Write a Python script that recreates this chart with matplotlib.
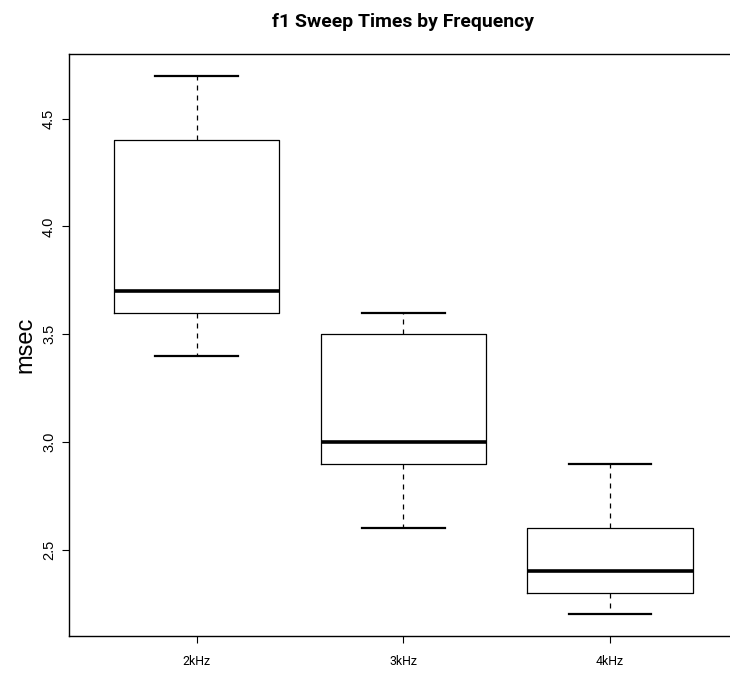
import matplotlib
matplotlib.use("Agg")
import matplotlib.pyplot as plt

groups = ["2kHz", "3kHz", "4kHz"]
whislo = [3.4, 2.6, 2.2]
q1 = [3.6, 2.9, 2.3]
med = [3.7, 3.0, 2.4]
q3 = [4.4, 3.5, 2.6]
whishi = [4.7, 3.6, 2.9]
yticks = [2.5, 3.0, 3.5, 4.0, 4.5]
title = "f1 Sweep Times by Frequency"

plt.rcParams["font.family"] = ["Liberation Sans", "DejaVu Sans"]
narrow = ["Roboto", "Liberation Sans", "DejaVu Sans"]

stats = []
for i, g in enumerate(groups):
    stats.append(dict(label=g, whislo=whislo[i], q1=q1[i], med=med[i],
                      q3=q3[i], whishi=whishi[i], fliers=[]))

W, H = 730, 677
fig = plt.figure(figsize=(W / 100, H / 100), dpi=100)
# right edge runs past the figure, like the cropped original
ax = fig.add_axes([68.5 / W, (H - 636) / H, 669.5 / W, 582 / H])

ax.bxp(stats, positions=[1, 2, 3], widths=0.8, showfliers=False,
       boxprops=dict(color="black", linewidth=0.9),
       medianprops=dict(color="black", linewidth=2.6),
       whiskerprops=dict(color="black", linewidth=0.9, linestyle=(0, (4, 4))),
       capprops=dict(color="black", linewidth=1.6),
       capwidths=0.4)

ax.set_xlim(0.38, 3.62)
ax.set_ylim(2.1, 4.8)
ax.set_yticks(yticks)
ax.set_yticklabels([f"{v:.1f}" for v in yticks], rotation=90, va="center",
                   fontsize=10.5)
ax.set_xticks([1, 2, 3])
ax.set_xticklabels(groups, family=narrow)
ax.tick_params(direction="out", length=5, width=0.8)
ax.tick_params(axis="x", pad=8.5)
ax.tick_params(axis="y", pad=4)
for s in ax.spines.values():
    s.set_linewidth(1.0)
ax.spines["right"].set_visible(False)

ax.set_ylabel("msec", fontsize=17, labelpad=4)
t = fig.text(403 / W, 1 - 27 / H, title, ha="center", va="baseline",
             fontsize=14, fontweight="bold", family=narrow)

# size the narrow-looking texts so their widths match the original
fig.canvas.draw()
r = fig.canvas.get_renderer()
w = t.get_window_extent(r).width
t.set_fontsize(14 * 262 / w)
for lab in ax.get_xticklabels():
    lab.set_fontsize(10)
fig.canvas.draw()
lw = ax.get_xticklabels()[0].get_window_extent(r).width
for lab in ax.get_xticklabels():
    lab.set_fontsize(10 * 28 / lw)

fig.savefig("out.png", dpi=100)
